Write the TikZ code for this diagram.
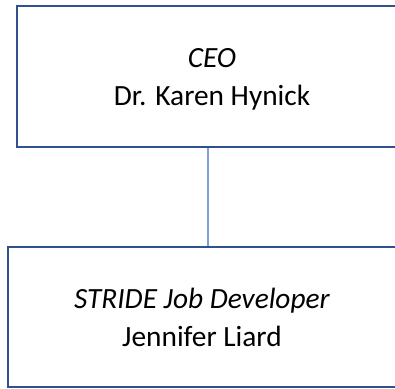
\documentclass[tikz,border=0pt]{standalone}
\usepackage{fontspec}
\setmainfont{Carlito}
\usepackage{tikz}
\definecolor{boxblue}{HTML}{2F528F}
\definecolor{linkblue}{HTML}{7F9FD8}
\tikzstyle{orgbox} = [draw=boxblue, line width=1.75pt, inner sep=0pt]
\tikzstyle{orgtext} = [align=center, inner sep=0pt, yshift=-2pt, font=\fontsize{22}{28.5}\selectfont]
\tikzstyle{orglink} = [draw=linkblue, line width=1.25pt]

\begin{document}
\begin{tikzpicture}[x=0.75pt,y=-0.75pt]
\clip (0,0) rectangle (395,388);
\node[orgbox, minimum width=390*0.75pt, minimum height=141*0.75pt] (ceo) at (212,76.5) {};
\node[orgbox, minimum width=388*0.75pt, minimum height=140*0.75pt] (stride) at (202,317) {};
\node[orgtext] (ceotext) at (ceo.center) {\strut\textit{CEO}\\\strut Dr. Karen Hynick};
\node[orgtext] (stridetext) at (stride.center) {\strut\textit{STRIDE Job Developer}\\\strut Jennifer Liard};
\coordinate (tap) at (208,200);
\draw[orglink] (ceo.south -| tap) -- (stride.north -| tap);
\end{tikzpicture}
\end{document}
